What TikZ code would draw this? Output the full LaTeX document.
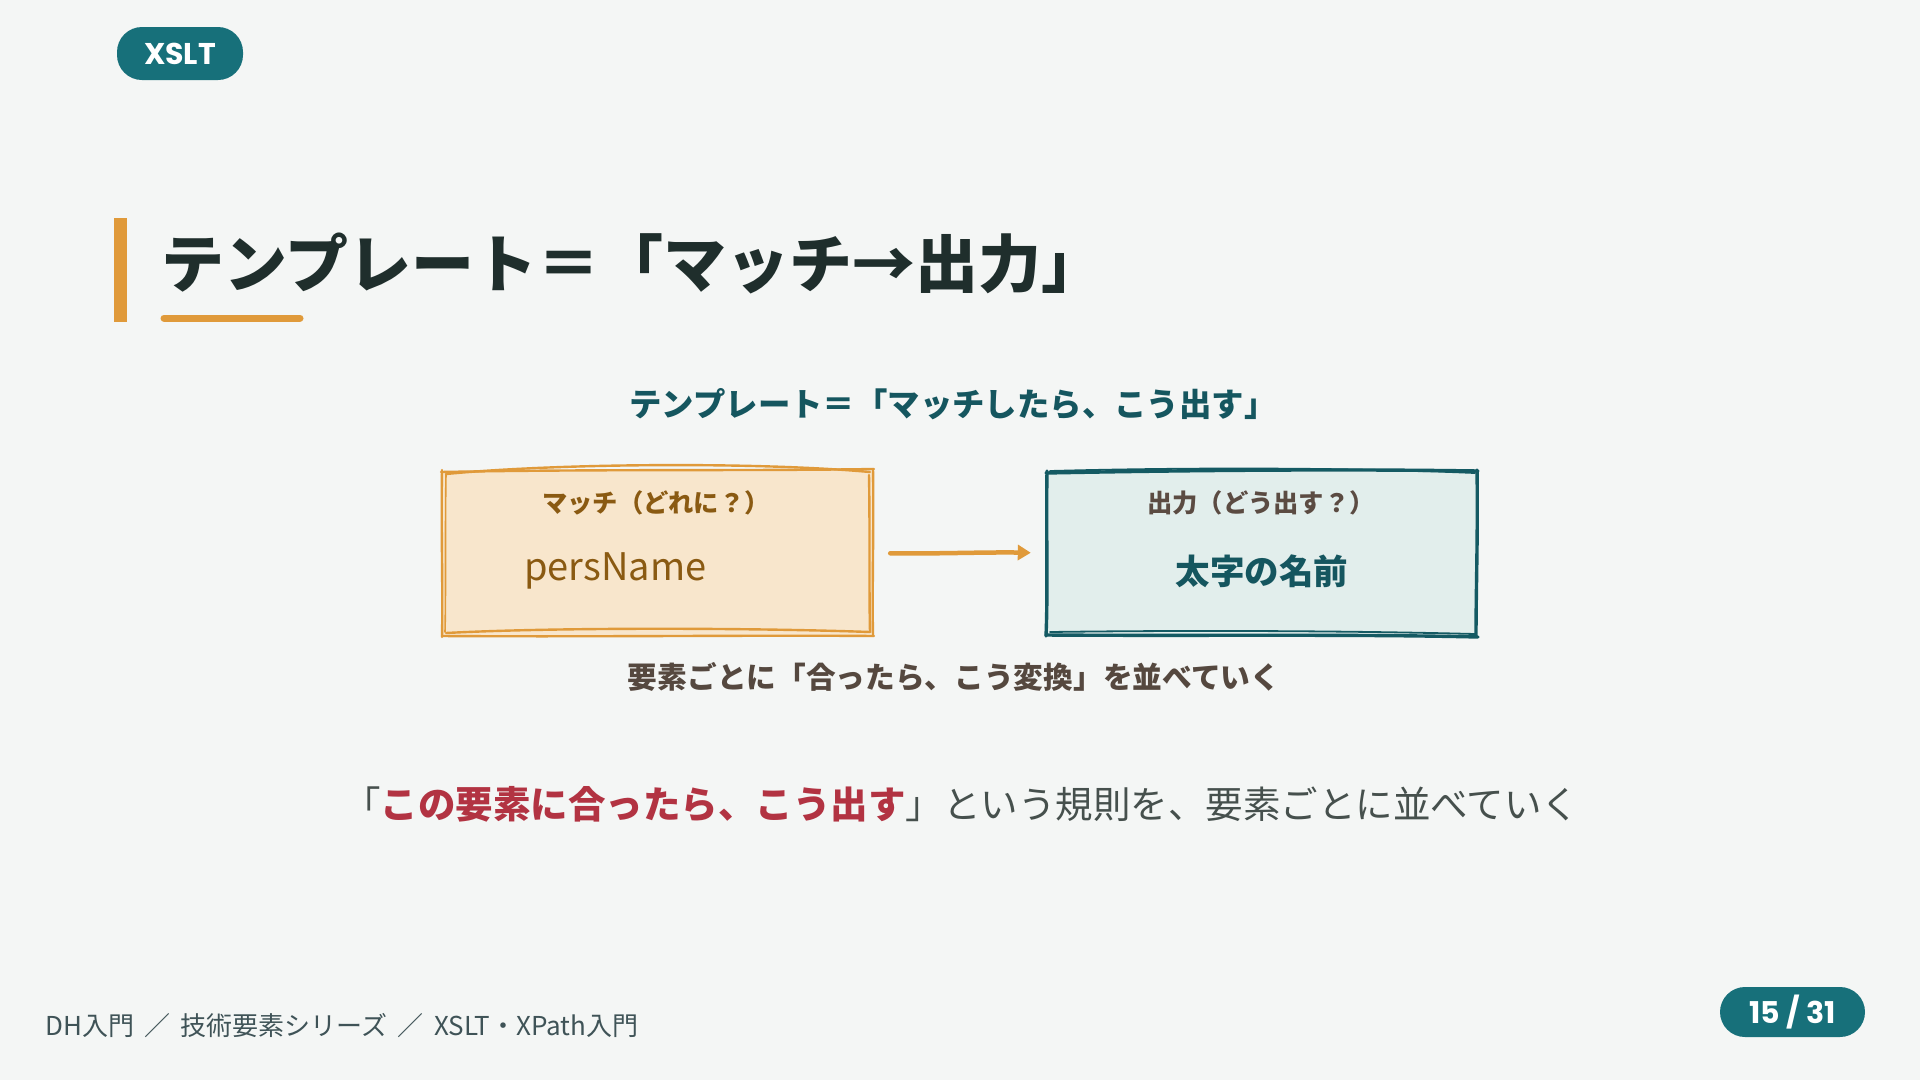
\documentclass[tikz,border=0pt]{standalone}
\usepackage{fontspec}
\setmainfont{Noto Sans CJK JP}
\newfontfamily\jp{Noto Sans CJK JP}
\newfontfamily\pop{Poppins}
\usetikzlibrary{arrows.meta}
\definecolor{bgc}{HTML}{F4F6F5}
\definecolor{pillc}{HTML}{17707A}
\definecolor{titlec}{HTML}{1F2E2C}
\definecolor{orangec}{HTML}{E09A3A}
\definecolor{subc}{HTML}{15565F}
\definecolor{lfill}{HTML}{F8E6CC}
\definecolor{brownc}{HTML}{8A5A12}
\definecolor{rfill}{HTML}{E2EEEC}
\definecolor{rstroke}{HTML}{145A63}
\definecolor{rlabel}{HTML}{5B4B42}
\definecolor{capc}{HTML}{55483F}
\definecolor{redc}{HTML}{B23342}
\definecolor{bodyc}{HTML}{46504D}
\definecolor{footc}{HTML}{3F5357}
\tikzset{
  pill/.style={fill=pillc, text=white, rounded corners=25pt, inner sep=0pt, font=\pop\bfseries},
  txt/.style={inner sep=0pt, font=\jp\bfseries},
  boxnode/.style={draw=none, inner sep=0pt},
  lsketch/.style={draw=orangec, line width=2.4pt, line cap=round, line join=round},
  rsketch/.style={draw=rstroke, line width=3.4pt, line cap=round, line join=round},
  flow/.style={draw=orangec, line width=4.5pt, line cap=round, -{Triangle[length=13pt,width=15pt]}}
}
\begin{document}
\begin{tikzpicture}[x=1pt,y=-1pt]
\useasboundingbox (0,0) rectangle (1920,1080);
\fill[bgc] (0,0) rectangle (1920,1080);

% tag pill
\node[pill, minimum width=126pt, minimum height=53pt, font=\pop\bfseries\fontsize{30}{32}\selectfont] (tag) at (180,53.5) {XSLT};

% title
\fill[orangec] (114,218) rectangle (127,322);
\node[txt, anchor=west, text=titlec, font=\jp\bfseries\fontsize{63}{70}\selectfont] (title) at (161,263) {テンプレート＝「マッチ→出力」};
\draw[orangec, line width=7pt, line cap=round] (164,318) -- (300,318);

% subtitle
\node[txt, text=subc, font=\jp\bfseries\fontsize{32.4}{35}\selectfont] (sub) at (953,404) {テンプレート＝「マッチしたら、こう出す」};

% boxes (anchors)
\node[boxnode, minimum width=431pt, minimum height=166pt] (match) at (657.5,553) {};
\node[boxnode, minimum width=432pt, minimum height=166pt] (out) at (1262,553) {};

% left box sketch
\fill[lfill] (443,471) rectangle (872,636);
\path[lsketch] (441,472) .. controls (600,469) and (750,471) .. (874,469);
\path[lsketch] (446,474) .. controls (560,463) and (760,462) .. (870,472);
\path[lsketch] (873,469) .. controls (874,520) and (872,590) .. (873,636);
\path[lsketch] (869,475) .. controls (870,530) and (869,590) .. (870,632);
\path[lsketch] (442,636) .. controls (600,637) and (760,635) .. (874,636);
\path[lsketch] (446,633) .. controls (560,627) and (760,628) .. (870,632);
\path[lsketch] (442,470) .. controls (441,530) and (443,590) .. (442,637);
\path[lsketch, line width=1.6pt] (446,474) .. controls (445,530) and (446,590) .. (445,632);

% right box sketch
\fill[rfill] (1047,472) rectangle (1477,636);
\path[rsketch] (1046,473) .. controls (1200,470) and (1350,469) .. (1478,471);
\path[rsketch, line width=1.8pt] (1050,471) .. controls (1200,467) and (1360,468) .. (1475,473);
\path[rsketch] (1477,470) .. controls (1478,530) and (1476,590) .. (1476,636);
\path[rsketch] (1046,635) .. controls (1200,636) and (1350,634) .. (1478,637);
\path[rsketch, line width=1.8pt] (1050,632) .. controls (1200,630) and (1360,631) .. (1475,634);
\path[rsketch] (1047,471) .. controls (1046,530) and (1048,590) .. (1046,636);

% box texts
\node[txt, text=brownc, font=\jp\bfseries\fontsize{25.3}{27}\selectfont] (mlabel) at (656,503) {マッチ（どれに？）};
\node[txt, anchor=west, text=brownc, font=\jp\fontsize{38}{40}\selectfont] (mval) at (524,571) {persName};
\node[txt, text=rlabel, font=\jp\bfseries\fontsize{25.3}{27}\selectfont] (olabel) at (1261,503) {出力（どう出す？）};
\node[txt, text=subc, font=\jp\bfseries\fontsize{34.5}{37}\selectfont] (oval) at (1262,571) {太字の名前};

% arrow
\draw[flow, shorten <=17pt, shorten >=15pt] (match.east) .. controls ([xshift=60pt,yshift=-1pt]match.east) and ([xshift=-60pt,yshift=1pt]out.west) .. (out.west);

% caption
\node[txt, text=capc, font=\jp\bfseries\fontsize{29.7}{32}\selectfont] (cap) at (954,677) {要素ごとに「合ったら、こう変換」を並べていく};

% statement
\node[txt, text=bodyc, font=\jp\fontsize{37.5}{40}\selectfont] (stmt) at (961,804) {「{\bfseries\color{redc}この要素に合ったら、こう出す}」という規則を、要素ごとに並べていく};

% footer
\node[txt, anchor=west, text=footc, font=\jp\fontsize{26}{28}\selectfont] (foot) at (45,1026) {DH入門\hspace{0.4em}／\hspace{0.4em}技術要素シリーズ\hspace{0.4em}／\hspace{0.4em}XSLT・XPath入門};

% page pill
\node[pill, minimum width=145pt, minimum height=50pt, font=\pop\bfseries\fontsize{30}{32}\selectfont] (page) at (1792.5,1012) {15 / 31};
\end{tikzpicture}
\end{document}
